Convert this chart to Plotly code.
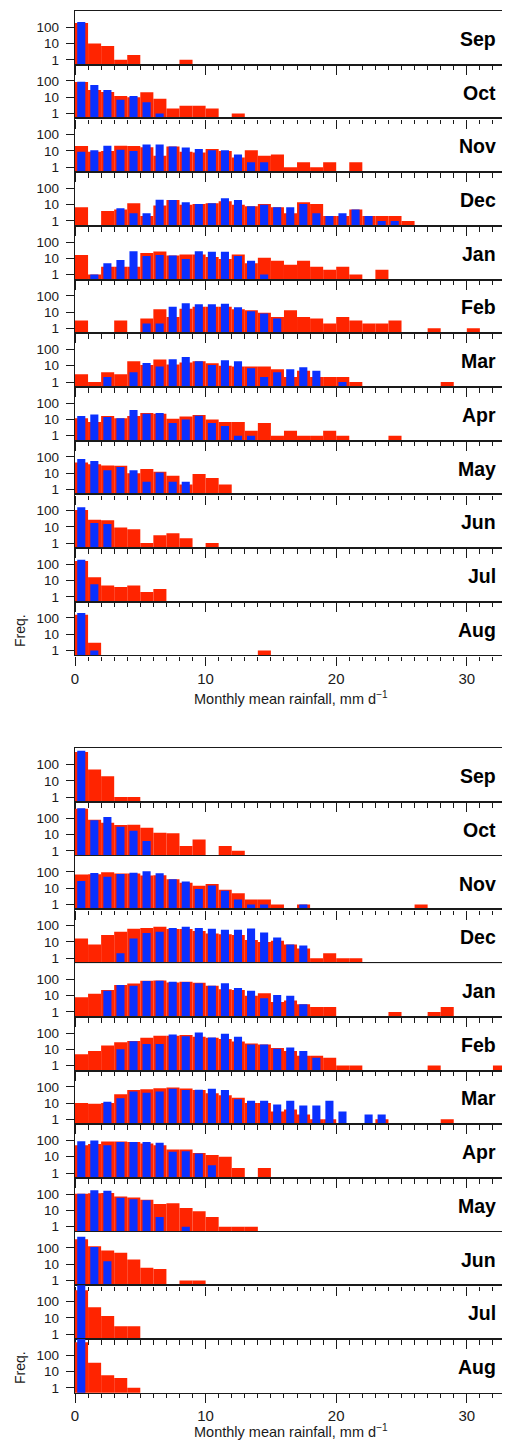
import plotly.graph_objects as go

# The page body adds an 8 px margin, so the figure is drawn 8 px in from the
# top-left corner; all reference pixel positions below are corrected by OFF.
OFF = 8
W, H = 510 - OFF, 1443 - OFF
RED = "#ff2400"
BLUE = "#0a30ff"
INK = "#1a1a1a"
FONT = "Liberation Sans, Arial, Helvetica, sans-serif"

months = ["Sep", "Oct", "Nov", "Dec", "Jan", "Feb", "Mar", "Apr", "May", "Jun", "Jul", "Aug"]
x_ticks = [0, 10, 20, 30]
y_ticks = [1, 10, 100]
x_title = "Monthly mean rainfall, mm d<sup>\u22121</sup>"
y_title = "Freq."

# ---- upper figure: frequency per 1 mm/d bin (bin k = [k, k+1]) ----
up_red_sep = [180, 10, 7, 1, 2, 0, 0, 0, 1]
up_blue_sep = [210]
up_red_oct = [87, 28, 21, 12, 10, 20, 8, 2, 3, 3, 2, 0, 1]
up_blue_oct = [90, 57, 28, 7, 12, 5, 1]
up_red_nov = [20, 9, 10, 21, 20, 17, 5, 19, 9, 8, 13, 10, 4, 11, 5, 6, 1, 2, 1, 2, 0, 2]
up_blue_nov = [9, 11, 21, 12, 10, 25, 25, 19, 16, 13, 11, 11, 6, 2, 2]
up_red_dec = [7, 0, 4, 5, 12, 2, 9, 19, 10, 11, 12, 16, 10, 8, 11, 7, 3, 14, 11, 2, 2, 5, 2, 2, 2, 1]
up_blue_dec = [0, 0, 0, 6, 3, 3, 20, 19, 14, 11, 12, 25, 19, 8, 10, 7, 7, 11, 3, 2, 3, 5, 2, 1, 1]
up_red_jan = [16, 1, 3, 3, 3, 21, 26, 15, 17, 17, 12, 9, 17, 5, 11, 7, 4, 7, 3, 2, 3, 1, 0, 2]
up_blue_jan = [0, 1, 5, 8, 27, 14, 16, 15, 9, 27, 25, 25, 14, 7, 1]
up_red_feb = [3, 0, 0, 3, 0, 4, 15, 5, 16, 21, 21, 21, 15, 13, 9, 5, 13, 5, 4, 2, 5, 3, 2, 2, 3, 0, 0, 1, 0, 0, 1]
up_blue_feb = [0, 0, 0, 0, 0, 2, 2, 21, 35, 30, 30, 32, 20, 11, 8, 4]
up_red_mar = [3, 1, 4, 3, 19, 11, 24, 12, 16, 19, 14, 10, 9, 9, 9, 6, 2, 5, 2, 2, 2, 1, 0, 0, 0, 0, 0, 0, 1]
up_blue_mar = [0, 0, 2, 0, 4, 15, 9, 25, 34, 19, 11, 22, 19, 7, 2, 4, 6, 8, 5, 0, 1]
up_red_apr = [12, 7, 16, 12, 16, 25, 22, 11, 15, 19, 10, 7, 7, 2, 6, 1, 2, 1, 1, 2, 1, 0, 0, 0, 1]
up_blue_apr = [16, 20, 14, 12, 38, 22, 25, 6, 10, 17, 6, 4, 1, 1]
up_red_may = [45, 35, 30, 28, 10, 18, 12, 7, 2, 9, 5, 2]
up_blue_may = [75, 55, 15, 24, 15, 3, 11, 3, 3]
up_red_jun = [110, 27, 25, 9, 7, 1, 3, 4, 2, 0, 1]
up_blue_jun = [160, 17, 15]
up_red_jul = [160, 16, 5, 4, 5, 2, 3]
up_blue_jul = [190, 6]
up_red_aug = [160, 3, 0, 0, 0, 0, 0, 0, 0, 0, 0, 0, 0, 0, 1]
up_blue_aug = [200, 1]

# ---- lower figure ----
lo_red_sep = [590, 50, 19, 1, 1]
lo_blue_sep = [700]
lo_red_oct = [380, 82, 54, 38, 40, 26, 13, 12, 2, 5, 0, 2, 1]
lo_blue_oct = [420, 75, 120, 30, 17, 4]
lo_red_nov = [69, 72, 96, 80, 80, 60, 63, 36, 22, 14, 18, 8, 5, 2, 2, 1, 0, 1, 0, 0, 0, 0, 0, 0, 0, 0, 1]
lo_blue_nov = [28, 87, 50, 75, 90, 110, 83, 36, 26, 9, 15, 7, 2, 1, 1, 0, 0, 1]
lo_red_dec = [16, 7, 27, 42, 65, 71, 85, 62, 62, 47, 33, 30, 27, 13, 10, 12, 7, 4, 1, 2, 1, 1]
lo_blue_dec = [0, 0, 0, 2, 16, 35, 42, 71, 85, 71, 65, 56, 56, 67, 38, 19, 7, 6]
lo_red_jan = [8, 13, 22, 45, 55, 83, 85, 65, 72, 63, 40, 25, 22, 10, 14, 4, 5, 3, 2, 2, 0, 0, 0, 0, 1, 0, 0, 1, 2]
lo_blue_jan = [0, 0, 20, 45, 40, 80, 83, 72, 70, 57, 40, 57, 30, 20, 7, 11, 10, 3]
lo_red_feb = [5, 8, 17, 27, 33, 52, 69, 69, 75, 60, 52, 43, 30, 23, 20, 12, 8, 4, 4, 3, 1, 1, 0, 0, 0, 0, 0, 1, 0, 0, 0, 0, 1]
lo_blue_feb = [0, 0, 0, 10, 31, 21, 21, 83, 63, 110, 54, 91, 60, 20, 20, 11, 13, 8, 3]
lo_red_mar = [10, 9, 10, 35, 63, 70, 80, 90, 77, 63, 40, 30, 21, 10, 10, 3, 4, 2, 1, 1, 0, 0, 0, 1, 0, 0, 0, 0, 1]
lo_blue_mar = [0, 0, 12, 20, 52, 43, 52, 75, 63, 65, 75, 63, 17, 14, 14, 8, 14, 7, 7, 14, 3, 0, 2, 2]
lo_red_apr = [51, 60, 85, 85, 80, 65, 50, 28, 28, 17, 13, 10, 2, 0, 2]
lo_blue_apr = [90, 100, 51, 80, 80, 80, 72, 20, 22, 16, 3]
lo_red_may = [105, 115, 120, 72, 63, 45, 25, 28, 14, 9, 4, 1, 1, 1]
lo_blue_may = [105, 175, 165, 60, 48, 43, 4, 0, 1]
lo_red_jun = [340, 125, 68, 50, 19, 6, 5, 0, 1, 1]
lo_blue_jun = [490, 115, 15]
lo_red_jul = [500, 45, 13, 3, 3]
lo_blue_jul = [1500]
lo_red_aug = [640, 35, 6, 4, 1]
lo_blue_aug = [1500]

groups = [
    ([up_red_sep, up_red_oct, up_red_nov, up_red_dec, up_red_jan, up_red_feb,
      up_red_mar, up_red_apr, up_red_may, up_red_jun, up_red_jul, up_red_aug],
     [up_blue_sep, up_blue_oct, up_blue_nov, up_blue_dec, up_blue_jan, up_blue_feb,
      up_blue_mar, up_blue_apr, up_blue_may, up_blue_jun, up_blue_jul, up_blue_aug]),
    ([lo_red_sep, lo_red_oct, lo_red_nov, lo_red_dec, lo_red_jan, lo_red_feb,
      lo_red_mar, lo_red_apr, lo_red_may, lo_red_jun, lo_red_jul, lo_red_aug],
     [lo_blue_sep, lo_blue_oct, lo_blue_nov, lo_blue_dec, lo_blue_jan, lo_blue_feb,
      lo_blue_mar, lo_blue_apr, lo_blue_may, lo_blue_jun, lo_blue_jul, lo_blue_aug]),
]

# reference pixel geometry (page coordinates)
PLOT_L, PLOT_R = 75, 506
PANEL_H = 53.7
GROUP_TOP = [11.0, 748.3]
XTITLE_Y = [698, 1431]
FREQ_Y = [631, 1368]


def px_x(px):
    return (px - OFF) / W


def px_y(px):
    return 1 - (px - OFF) / H


fig = go.Figure()
layout = {}
annotations = []
n = 0
for g, (reds, blues) in enumerate(groups):
    for i, m in enumerate(months):
        n += 1
        sfx = "" if n == 1 else str(n)
        xa, ya = "x" + sfx, "y" + sfx
        top = GROUP_TOP[g] + PANEL_H * i
        bot = top + PANEL_H
        red = reds[i]
        blue = blues[i]
        fig.add_trace(go.Bar(
            x=[k + 0.5 for k in range(len(red))],
            y=[v if v > 0 else None for v in red],
            width=1.0, marker=dict(color=RED, line=dict(width=0)),
            xaxis=xa, yaxis=ya, showlegend=False, hoverinfo="skip"))
        fig.add_trace(go.Bar(
            x=[k + 0.48 for k in range(len(blue))],
            y=[v if v > 0 else None for v in blue],
            width=0.62, marker=dict(color=BLUE, line=dict(width=0)),
            xaxis=xa, yaxis=ya, showlegend=False, hoverinfo="skip"))
        last = (i == len(months) - 1)
        layout["xaxis" + sfx] = dict(
            domain=[px_x(PLOT_L), px_x(PLOT_R)], anchor=ya, range=[0, 33],
            automargin=False,
            showline=True, linecolor=INK, linewidth=1.4, mirror=True,
            ticks="outside", ticklen=9, tickwidth=1.3, tickcolor=INK,
            tickvals=x_ticks,
            minor=dict(ticks="outside", dtick=1, tick0=0, ticklen=4.5, tickwidth=1.1, tickcolor=INK),
            showgrid=False, zeroline=False, showticklabels=last,
            tickfont=dict(size=15, color=INK, family=FONT), fixedrange=True)
        layout["yaxis" + sfx] = dict(
            domain=[px_y(bot), px_y(top)], anchor=xa, type="log", range=[-0.3, 3.0],
            automargin=False,
            showline=True, linecolor=INK, linewidth=1.4, mirror="ticks",
            ticks="outside", ticklen=8, tickwidth=1.3, tickcolor=INK,
            tickvals=y_ticks, ticktext=[str(t) for t in y_ticks],
            ticklabelstandoff=4,
            showgrid=False, zeroline=False,
            tickfont=dict(size=13.5, color=INK, family=FONT), fixedrange=True)
        annotations.append(dict(
            xref="paper", yref="paper", x=px_x(498), y=px_y(top + PANEL_H * 0.52),
            xanchor="right", yanchor="middle", showarrow=False,
            text="<b>%s</b>" % m, font=dict(size=19.5, color="#000", family=FONT)))
    annotations.append(dict(
        xref="paper", yref="paper", x=px_x((PLOT_L + PLOT_R) / 2), y=px_y(XTITLE_Y[g]),
        xanchor="center", yanchor="middle", showarrow=False, text=x_title,
        font=dict(size=14.5, color=INK, family=FONT)))
    annotations.append(dict(
        xref="paper", yref="paper", x=px_x(20), y=px_y(FREQ_Y[g]),
        xanchor="center", yanchor="middle", showarrow=False, text=y_title,
        textangle=-90, font=dict(size=14, color=INK, family=FONT)))

fig.update_layout(
    template="none",
    width=W, height=H, margin=dict(l=0, r=0, t=0, b=0, autoexpand=False),
    paper_bgcolor="white", plot_bgcolor="white",
    barmode="overlay", annotations=annotations,
    font=dict(family=FONT, color=INK), **layout)

fig.write_html("out.html", config={"displayModeBar": False})
